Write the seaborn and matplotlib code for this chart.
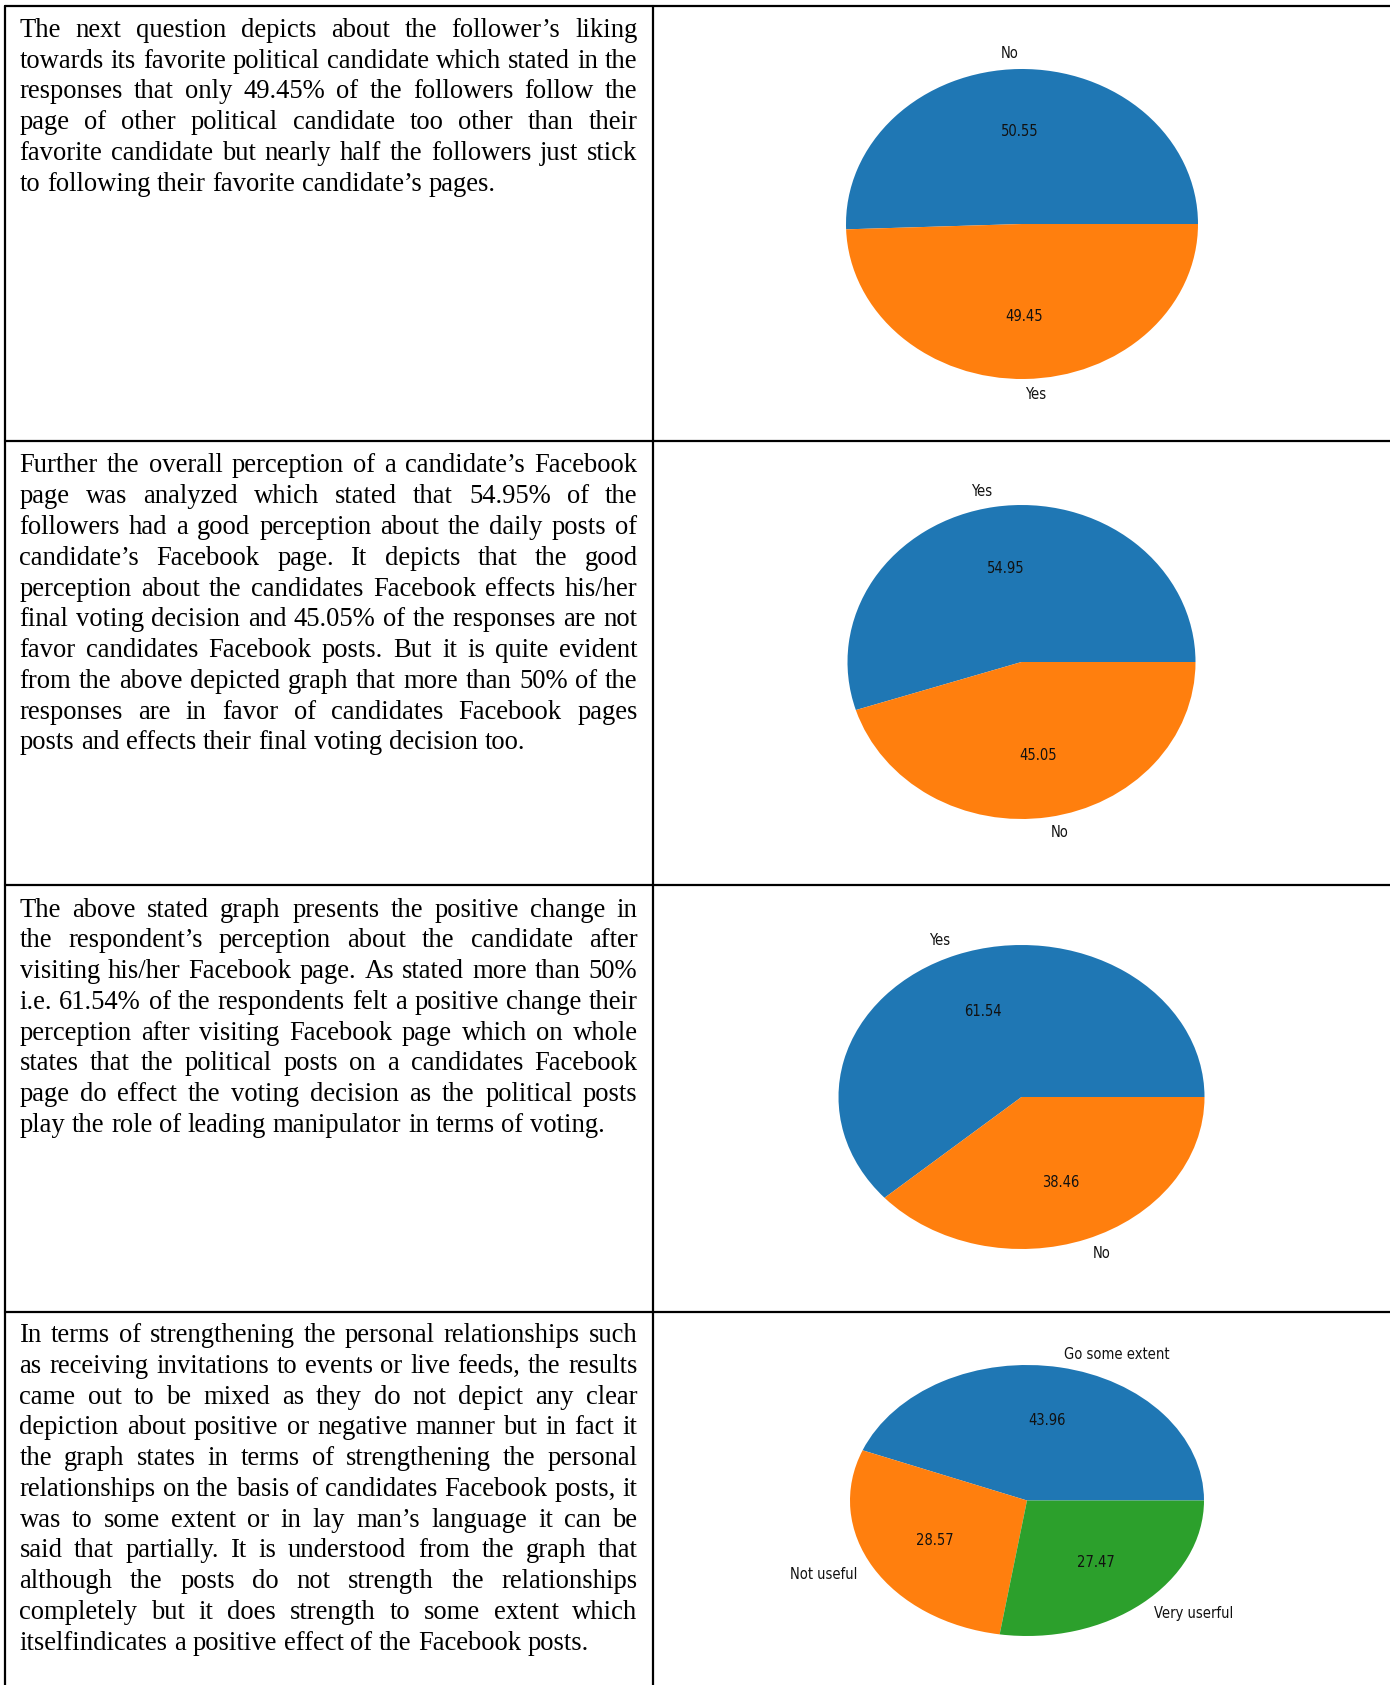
import matplotlib
matplotlib.use("Agg")
import matplotlib.pyplot as plt
import seaborn as sns
from matplotlib.lines import Line2D

sns.set_style("white")
plt.rcParams['font.family'] = ['DejaVu Sans']

# ---- data ----
follow_labels = ['No', 'Yes']
follow_values = [50.55, 49.45]

perception_labels = ['Yes', 'No']
perception_values = [54.95, 45.05]

change_labels = ['Yes', 'No']
change_values = [61.54, 38.46]

relation_labels = ['Go some extent', 'Not useful', 'Very userful']
relation_values = [43.96, 28.57, 27.47]

para_follow = [
    "The next question depicts about the follower’s liking",
    "towards its favorite political candidate which stated in the",
    "responses that only 49.45% of the followers follow the",
    "page of other political candidate too other than their",
    "favorite candidate but nearly half the followers just stick",
    "to following their favorite candidate’s pages.",
]
para_perception = [
    "Further the overall perception of a candidate’s Facebook",
    "page was analyzed which stated that 54.95% of the",
    "followers had a good perception about the daily posts of",
    "candidate’s Facebook page. It depicts that the good",
    "perception about the candidates Facebook effects his/her",
    "final voting decision and 45.05% of the responses are not",
    "favor candidates Facebook posts. But it is quite evident",
    "from the above depicted graph that more than 50% of the",
    "responses are in favor of candidates Facebook pages",
    "posts and effects their final voting decision too.",
]
para_change = [
    "The above stated graph presents the positive change in",
    "the respondent’s perception about the candidate after",
    "visiting his/her Facebook page. As stated more than 50%",
    "i.e. 61.54% of the respondents felt a positive change their",
    "perception after visiting Facebook page which on whole",
    "states that the political posts on a candidates Facebook",
    "page do effect the voting decision as the political posts",
    "play the role of leading manipulator in terms of voting.",
]
para_relation = [
    "In terms of strengthening the personal relationships such",
    "as receiving invitations to events or live feeds, the results",
    "came out to be mixed as they do not depict any clear",
    "depiction about positive or negative manner but in fact it",
    "the graph states in terms of strengthening the personal",
    "relationships on the basis of candidates Facebook posts, it",
    "was to some extent or in lay man’s language it can be",
    "said that partially. It is understood from the graph that",
    "although the posts do not strength the relationships",
    "completely but it does strength to some extent which",
    "itselfindicates a positive effect of the Facebook posts.",
]

# ---- layout (pixels) ----
W, H = 1390, 1685
DPI = 100
TEXT_X0, TEXT_X1 = 19.5, 637.5
LINE_STEP = 30.75
BODY_SIZE = 19.2
ROW_LINES = [6.5, 441, 885, 1312]
LEFT_X, MID_X = 4.5, 652.5

fig = plt.figure(figsize=(W / DPI, H / DPI), dpi=DPI)
renderer = fig.canvas.get_renderer()


def fx(x):
    return x / W


def fy(y):
    return 1 - y / H


def draw_paragraph(lines, first_baseline):
    space = BODY_SIZE * DPI / 72 * 0.25
    for i, line in enumerate(lines):
        y = first_baseline + i * LINE_STEP
        words = line.split(' ')
        texts = [fig.text(0, fy(y), w, fontsize=BODY_SIZE,
                          family=['Liberation Serif', 'DejaVu Serif'],
                          ha='left', va='baseline', color='black')
                 for w in words]
        widths = [t.get_window_extent(renderer).width for t in texts]
        # justified, except the last line of the paragraph
        if i == len(lines) - 1 or len(words) == 1:
            gap = space
        else:
            gap = (TEXT_X1 - TEXT_X0 - sum(widths)) / (len(words) - 1)
        x = TEXT_X0
        for t, w in zip(texts, widths):
            t.set_x(fx(x))
            x += w + gap


def draw_pie(values, labels, cx, cy, rx, ry):
    ax = fig.add_axes([fx(cx - 1.25 * rx), fy(cy + 1.25 * ry),
                       2.5 * rx / W, 2.5 * ry / H])
    colors = sns.color_palette('tab10', len(values))
    ax.pie(values, labels=labels, colors=colors, autopct='%.2f',
           wedgeprops={'linewidth': 0},
           textprops={'fontsize': 10.5, 'fontstretch': 'condensed',
                      'family': ['DejaVu Sans'], 'color': '#111111'})
    ax.set_aspect('auto')
    ax.set_xlim(-1.25, 1.25)
    ax.set_ylim(-1.25, 1.25)
    ax.axis('off')


# table rules
lw = 1.6
for y in ROW_LINES:
    fig.add_artist(Line2D([fx(LEFT_X), 1], [fy(y), fy(y)], color='black', lw=lw))
for x in [LEFT_X, MID_X]:
    fig.add_artist(Line2D([fx(x), fx(x)], [fy(ROW_LINES[0]), 0], color='black', lw=lw))

draw_paragraph(para_follow, 37)
draw_paragraph(para_perception, 472.5)
draw_paragraph(para_change, 916.5)
draw_paragraph(para_relation, 1342)

draw_pie(follow_values, follow_labels, 1022, 224, 176, 155)
draw_pie(perception_values, perception_labels, 1021.5, 662, 174, 157)
draw_pie(change_values, change_labels, 1021.5, 1097, 183, 152)
draw_pie(relation_values, relation_labels, 1027, 1500.5, 177, 135.5)

fig.savefig('out.png', dpi=DPI)
